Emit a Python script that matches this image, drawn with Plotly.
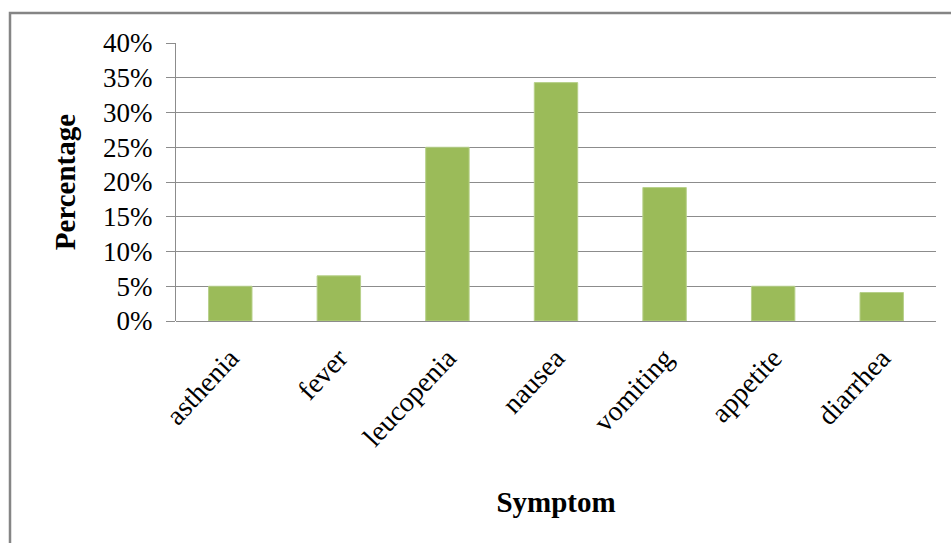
import plotly.graph_objects as go

symptoms = ["asthenia", "fever", "leucopenia", "nausea", "vomiting", "appetite", "diarrhea"]
percentages = [0.05, 0.065, 0.25, 0.343, 0.192, 0.05, 0.041]
y_ticks = [0, 0.05, 0.10, 0.15, 0.20, 0.25, 0.30, 0.35, 0.40]
y_tick_labels = ["0%", "5%", "10%", "15%", "20%", "25%", "30%", "35%", "40%"]

W, H = 951, 543
ML, MR, MT, MB = 176, 15, 43, 222
pw, ph = W - ML - MR, H - MT - MB

serif = "Liberation Serif, Times New Roman, serif"

fig = go.Figure(
    go.Bar(
        x=symptoms,
        y=percentages,
        marker=dict(color="#9BBB59", line=dict(color="#B7D08A", width=1)),
    )
)

# outer chart frame (runs off the right and bottom edges)
fig.add_shape(
    type="rect", xref="paper", yref="paper",
    x0=(10 - ML) / pw, x1=1 + (W + 20 - ML - pw) / pw,
    y0=-(MB + 20) / ph, y1=1 + (MT - 13) / ph,
    line=dict(color="#858585", width=2.5), fillcolor="rgba(0,0,0,0)",
    layer="below",
)

fig.update_layout(
    width=W, height=H,
    margin=dict(l=ML, r=MR, t=MT, b=MB),
    paper_bgcolor="white", plot_bgcolor="white",
    bargap=0.6,
    showlegend=False,
    font=dict(family=serif, color="black"),
    xaxis=dict(
        tickangle=-47,
        tickfont=dict(size=28, family=serif),
        showline=False, showgrid=False, ticks="",
        ticklabelstandoff=14,
        title=dict(text="<b>Symptom</b>", font=dict(size=29, family=serif), standoff=40),
    ),
    yaxis=dict(
        range=[0, 0.40],
        tickvals=y_ticks, ticktext=y_tick_labels,
        tickfont=dict(size=27, family=serif),
        showgrid=True, gridcolor="#8C8C8C", gridwidth=1,
        showline=True, linecolor="#8C8C8C", linewidth=1,
        ticks="outside", ticklen=9, tickcolor="#8C8C8C",
        ticklabelstandoff=8,
        zeroline=True, zerolinecolor="#8C8C8C", zerolinewidth=1,
        title=dict(text="<b>Percentage</b>", font=dict(size=29, family=serif), standoff=18),
    ),
)

fig.write_html("out.html")
